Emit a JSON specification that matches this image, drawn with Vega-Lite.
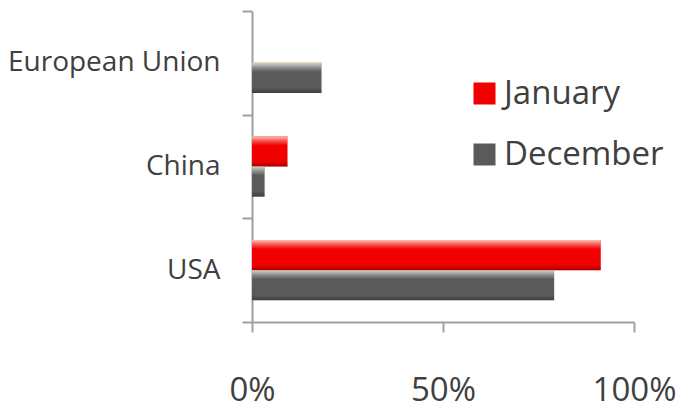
{
  "$schema": "https://vega.github.io/schema/vega-lite/v6.json",
  "width": 382,
  "height": 311,
  "autosize": {"type": "none"},
  "padding": {"left": 252, "top": 11, "right": 50, "bottom": 92},
  "background": "white",
  "config": {
    "view": {"stroke": null},
    "font": "Open Sans"
  },
  "data": {
    "values": [
      {"country": "European Union", "series": "January", "value": 0},
      {"country": "European Union", "series": "December", "value": 0.182},
      {"country": "China", "series": "January", "value": 0.093},
      {"country": "China", "series": "December", "value": 0.033},
      {"country": "USA", "series": "January", "value": 0.913},
      {"country": "USA", "series": "December", "value": 0.791}
    ]
  },
  "encoding": {
    "y": {
      "field": "country",
      "type": "nominal",
      "title": null,
      "sort": ["European Union", "China", "USA"],
      "scale": {"paddingInner": 0, "paddingOuter": 0},
      "axis": {
        "tickBand": "extent",
        "tickSize": 10,
        "tickWidth": 2,
        "tickColor": "#a0a0a0",
        "domainColor": "#a0a0a0",
        "domainWidth": 2,
        "labelFontSize": 28,
        "labelColor": "#404040",
        "labelPadding": 22,
        "labelFont": "Open Sans",
        "labelLimit": 300
      }
    },
    "yOffset": {
      "field": "series",
      "type": "nominal",
      "sort": ["January", "December"],
      "scale": {"paddingInner": 0, "paddingOuter": 0.72}
    },
    "x": {
      "field": "value",
      "type": "quantitative",
      "title": null,
      "scale": {"domain": [0, 1], "nice": false},
      "axis": {
        "values": [0, 0.5, 1],
        "format": ".0%",
        "grid": false,
        "tickSize": 10,
        "tickWidth": 2,
        "tickColor": "#a0a0a0",
        "domainColor": "#a0a0a0",
        "domainWidth": 2,
        "labelFontSize": 33,
        "labelColor": "#404040",
        "labelBaseline": "alphabetic",
        "labelPadding": 68,
        "labelFont": "Open Sans",
        "labelFlush": false,
        "labelOverlap": false
      }
    }
  },
  "layer": [
    {
      "mark": {"type": "bar"},
      "encoding": {
        "color": {
          "field": "series",
          "type": "nominal",
          "title": null,
          "sort": ["January", "December"],
          "scale": {"domain": ["January", "December"], "range": ["#f20000", "#5a5a5a"]},
          "legend": {
            "orient": "none",
            "legendX": 216,
            "legendY": 66,
            "symbolType": "square",
            "symbolSize": 484,
            "symbolStrokeWidth": 0,
            "labelFontSize": 33,
            "labelColor": "#404040",
            "labelFont": "Open Sans",
            "labelOffset": 3,
            "rowPadding": 27,
            "labelLimit": 300
          }
        }
      }
    },
    {
      "mark": {
        "type": "bar",
        "color": {
          "gradient": "linear",
          "x1": 0, "y1": 0, "x2": 0, "y2": 1,
          "stops": [
            {"offset": 0, "color": "rgba(255,225,190,0.85)"},
            {"offset": 0.12, "color": "rgba(255,255,255,0.4)"},
            {"offset": 0.3, "color": "rgba(255,255,255,0.0)"},
            {"offset": 0.82, "color": "rgba(0,0,0,0.0)"},
            {"offset": 1, "color": "rgba(0,0,0,0.3)"}
          ]
        }
      },
      "encoding": {}
    }
  ]
}
